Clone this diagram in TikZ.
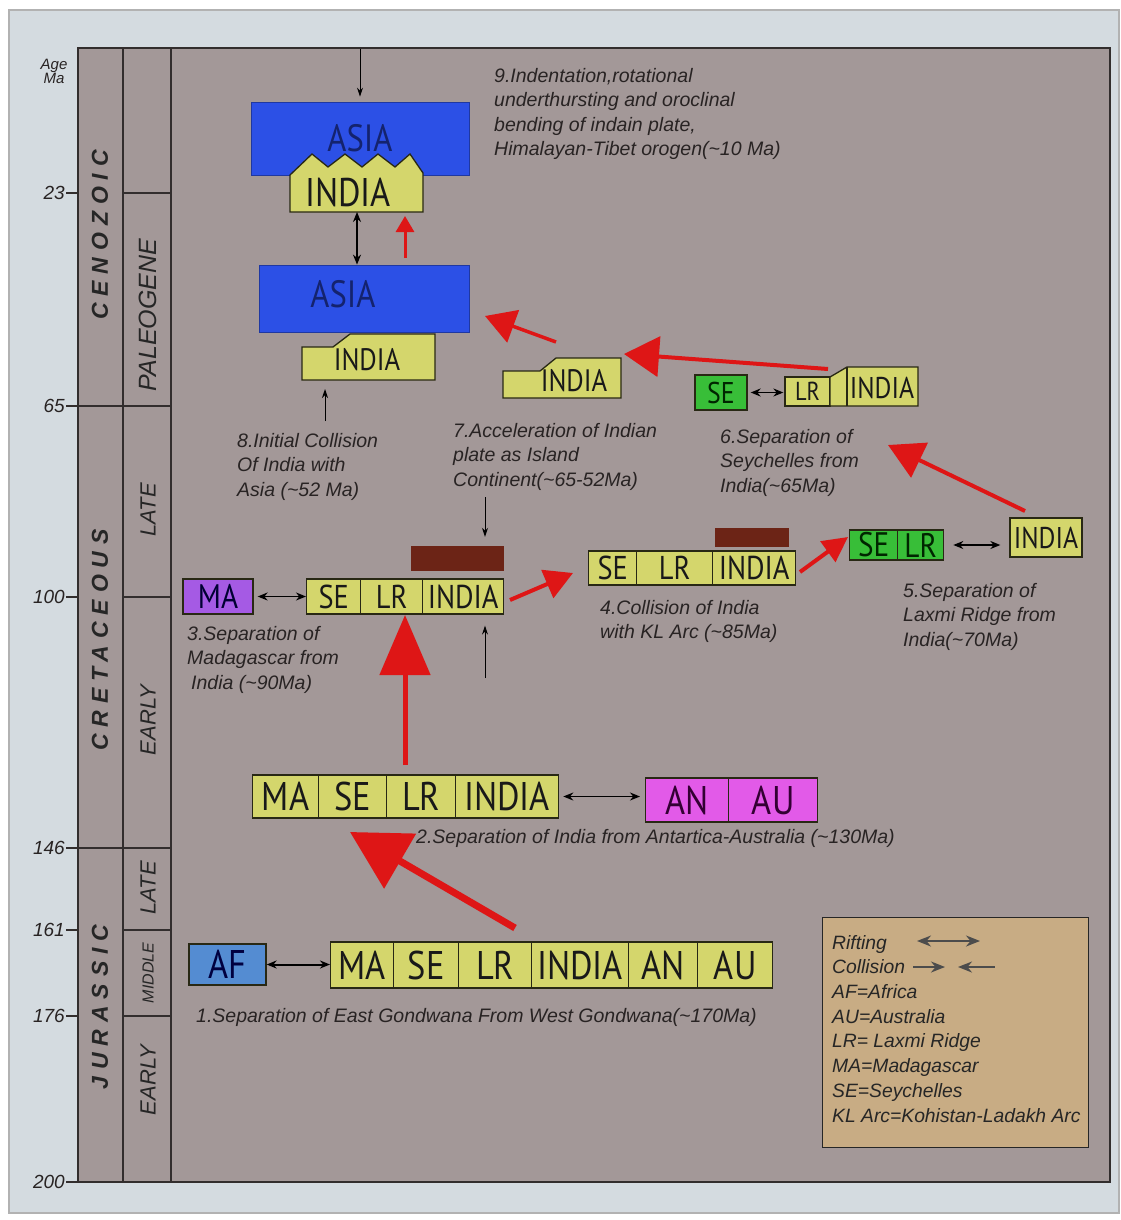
\documentclass[tikz,border=0pt]{standalone}
\usepackage{fontspec}
\setmainfont{Liberation Sans}
\newfontfamily\platefont[FakeStretch=0.86]{PT Sans}
\newfontfamily\erafont[LetterSpace=30]{Liberation Sans}
\usetikzlibrary{arrows.meta}
\definecolor{framebg}{RGB}{212,219,224}
\definecolor{panelbg}{RGB}{163,152,152}
\definecolor{gridline}{RGB}{50,45,45}
\definecolor{plateyel}{RGB}{212,214,108}
\definecolor{platedge}{RGB}{40,40,20}
\definecolor{afblue}{RGB}{84,140,210}
\definecolor{mapurple}{RGB}{165,90,228}
\definecolor{anmagenta}{RGB}{226,90,232}
\definecolor{segreen}{RGB}{56,190,56}
\definecolor{klbrown}{RGB}{108,36,22}
\definecolor{asiablue}{RGB}{44,80,230}
\definecolor{asiatext}{RGB}{20,35,110}
\definecolor{legendtan}{RGB}{200,172,132}
\definecolor{movered}{RGB}{222,22,22}
\definecolor{captext}{RGB}{40,35,35}
\newcommand\plsize[1]{\platefont\fontsize{#1}{#1}\selectfont}

\begin{document}
\begin{tikzpicture}[x=1pt,y=-1pt,>={Stealth[length=10pt,width=8pt]},
  plate/.style={draw=platedge,line width=1.3pt,fill=plateyel,inner sep=0pt,text=black!90},
  plateshape/.style={draw=platedge,line width=1.3pt,fill=plateyel},
  asiabox/.style={draw=asiablue!70!black,line width=0.8pt,fill=asiablue,inner sep=0pt,text=asiatext},
  klbar/.style={fill=klbrown,inner sep=0pt},
  stepnote/.style={anchor=north west,inner sep=0pt,align=left,text=captext,font=\fontsize{19.5}{24.5}\selectfont\itshape},
  agelab/.style={anchor=east,inner sep=1pt,text=captext,font=\fontsize{19}{19}\selectfont\itshape},
  eralab/.style={rotate=90,inner sep=0pt,text=black!85,font=\erafont\fontsize{23}{23}\selectfont\bfseries\itshape},
  epochlab/.style={rotate=90,inner sep=0pt,text=black!85,font=\fontsize{22}{22}\selectfont\itshape},
  rift/.style={<->,line width=1.4pt},
  push/.style={->,line width=1pt,>={Stealth[length=9pt,width=6pt]}},
  redmove/.style n args={3}{draw=movered,line width=#1,-{Triangle[length=#2,width=#3]}},
  legarrow/.style={draw=black!70,line width=2pt,>={Stealth[length=14pt,width=11pt]}}]
\useasboundingbox (0,0) rectangle (1121,1220);
\fill[white] (0,0) rectangle (1121,1220);
\filldraw[fill=framebg,draw=black!30,line width=1.5pt] (9,10) rectangle (1119,1213);
\filldraw[fill=panelbg,draw=gridline,line width=1.5pt] (78,48) rectangle (1110,1182);
\draw[gridline,line width=1.5pt] (123,48) -- (123,1182) (171,48) -- (171,1182);
\foreach \y in {193,597,930,1016} \draw[gridline,line width=1.5pt] (123,\y) -- (171,\y);
\foreach \y in {406,848} \draw[gridline,line width=1.5pt] (78,\y) -- (171,\y);
\foreach \y/\a in {193/23,406/65,597/100,848/146,930/161,1016/176,1182/200} {
  \draw[gridline,line width=1.5pt] (66,\y) -- (78,\y);
  \node[agelab] (age\a) at (66,\y) {\a};
}
\node[inner sep=0pt,align=center,text=captext,font=\fontsize{15}{14}\selectfont\itshape] (agehead) at (54,71) {Age\\Ma};
\node[eralab] (cenozoic) at (100,235) {CENOZOIC};
\node[eralab] (cretaceous) at (100,640) {CRETACEOUS};
\node[eralab] (jurassic) at (100,1007) {JURASSIC};
\node[epochlab,font=\fontsize{25}{25}\selectfont\itshape] (paleogene) at (148,315) {PALEOGENE};
\node[epochlab] (latecret) at (148,510) {LATE};
\node[epochlab] (earlycret) at (148,720) {EARLY};
\node[epochlab] (latejur) at (148,888) {LATE};
\node[epochlab,font=\fontsize{16}{16}\selectfont\itshape] (midjur) at (148,973) {MIDDLE};
\node[epochlab] (earlyjur) at (148,1080) {EARLY};

\node[asiabox,minimum width=218,minimum height=73,font=\plsize{38}] (asia9) at (360,138.5) {ASIA};
\filldraw[plateshape] (290,212) -- (290,175) -- (312,154) -- (328,167) -- (345,154) -- (362,167) -- (378,154) -- (395,167) -- (410,154) -- (423,173) -- (423,212) -- cycle;
\node[inner sep=0pt,text=black!90,font=\plsize{40}] (in9) at (348,192) {INDIA};
\coordinate (in9s) at (357,212);
\coordinate (top9) at (360,49);
\draw[push,shorten >=5pt] (top9) -- (asia9);
\node[stepnote] (cap9) at (494,68) {9.Indentation,rotational\\underthursting and oroclinal\\bending of indain plate,\\Himalayan-Tibet orogen(\textasciitilde10 Ma)};

\node[asiabox,minimum width=210,minimum height=67] (asia8) at (364,298.5) {};
\node[inner sep=0pt,text=asiatext,font=\plsize{38}] (asia8t) at (343,294) {ASIA};
\filldraw[plateshape] (302,380) -- (302,347) -- (333,347) -- (350,334) -- (435,334) -- (435,380) -- cycle;
\node[inner sep=0pt,text=black!90,font=\plsize{31}] (in8) at (367,360) {INDIA};
\coordinate (in8s) at (325,380);
\draw[rift] (in9s) -- (in9s |- asia8.north);
\coordinate (up8a) at (405,258);
\coordinate (up8b) at (405,216);
\draw[redmove={3pt}{16pt}{18pt}] (up8a) -- (up8b);
\coordinate (p8) at (325,421);
\draw[push,shorten >=9pt] (p8) -- (p8 |- in8s);
\node[stepnote] (cap8) at (237,433) {8.Initial Collision\\Of India with\\Asia (\textasciitilde52 Ma)};

\filldraw[plateshape] (503,398) -- (503,371) -- (540,371) -- (556,358) -- (621,358) -- (621,398) -- cycle;
\node[inner sep=0pt,text=black!90,font=\plsize{31}] (in7) at (574,381) {INDIA};
\node[stepnote] (cap7) at (453,423) {7.Acceleration of Indian\\plate as Island\\Continent(\textasciitilde65-52Ma)};

\node[plate,fill=segreen,minimum width=52,minimum height=35,font=\plsize{30},text=green!15!black] (se6) at (721,392.5) {SE};
\node[plate,minimum width=45,minimum height=29,font=\plsize{26}] (lr6) at (807.5,391.5) {LR};
\filldraw[plateshape] (830,406) -- (830,377) -- (847,367) -- (918,367) -- (918,406) -- cycle;
\draw[platedge,line width=1.3pt] (847,367) -- (847,406);
\node[inner sep=0pt,text=black!90,font=\plsize{30}] (in6) at (882,388) {INDIA};
\draw[rift,shorten <=3pt,shorten >=1pt] (se6.east) -- (se6.east -| lr6.west);
\node[stepnote] (cap6) at (720,429) {6.Separation of\\Seychelles from\\India(\textasciitilde65Ma)};

\foreach \n/\t/\a/\b in {se/SE/849/897,lr/LR/897/943}
  \node[plate,fill=segreen,text=green!15!black,minimum width=\b-\a,minimum height=30,anchor=west,font=\plsize{34}] (r5\n) at (\a,545) {\t};
\node[plate,minimum width=72,minimum height=39,font=\plsize{30}] (in5) at (1046,537.5) {INDIA};
\draw[rift,shorten <=9pt,shorten >=9pt] (r5lr.east) -- (r5lr.east -| in5.west);
\node[stepnote] (cap5) at (903,583) {5.Separation of\\Laxmi Ridge from\\India(\textasciitilde70Ma)};

\foreach \n/\t/\a/\b in {se/SE/588/636,lr/LR/636/712,in/INDIA/712/795}
  \node[plate,minimum width=\b-\a,minimum height=34,anchor=west,font=\plsize{33}] (r4\n) at (\a,568) {\t};
\node[klbar,minimum width=74,minimum height=19] (kl4) at (752,537.5) {};
\node[stepnote] (cap4) at (600,600) {4.Collision of India\\with KL Arc (\textasciitilde85Ma)};

\node[plate,fill=mapurple,minimum width=70,minimum height=35,font=\plsize{34},text=blue!20!black] (ma3) at (218,596.5) {MA};
\foreach \n/\t/\a/\b in {se/SE/306/360,lr/LR/360/422,in/INDIA/422/503}
  \node[plate,minimum width=\b-\a,minimum height=35,anchor=west,font=\plsize{33}] (r3\n) at (\a,596.5) {\t};
\node[klbar,minimum width=93,minimum height=25] (kl3) at (457.5,558.5) {};
\draw[rift,shorten <=4pt] (ma3.east) -- (ma3.east -| r3se.west);
\coordinate (p3a) at (485,497);
\coordinate (p3b) at (485,678);
\draw[push,shorten >=9pt] (p3a) -- (p3a |- kl3.north);
\draw[push,shorten >=11pt] (p3b) -- (p3b |- r3in.south);
\node[stepnote] (cap3) at (187,626) {3.Separation of\\Madagascar from\\\hspace*{4pt}India (\textasciitilde90Ma)};

\foreach \n/\t/\a/\b in {ma/MA/252/318,se/SE/318/386,lr/LR/386/455,in/INDIA/455/558}
  \node[plate,minimum width=\b-\a,minimum height=43,anchor=west,font=\plsize{40}] (r2\n) at (\a,796.5) {\t};
\foreach \n/\t/\a/\b in {an/AN/645/728,au/AU/728/817}
  \node[plate,fill=anmagenta,text=violet!40!black,minimum width=\b-\a,minimum height=44,anchor=west,font=\plsize{40}] (r2\n) at (\a,800) {\t};
\draw[rift,shorten <=4pt,shorten >=5pt] (r2in.east) -- (r2in.east -| r2an.west);
\node[stepnote] (cap2) at (416,829) {2.Separation of India from Antartica-Australia (\textasciitilde130Ma)};

\node[plate,fill=afblue,minimum width=77,minimum height=41,font=\plsize{40},text=blue!25!black] (af1) at (227.5,964.5) {AF};
\foreach \n/\t/\a/\b in {ma/MA/330/393,se/SE/393/458,lr/LR/458/531,in/INDIA/531/628,an/AN/628/697,au/AU/697/772}
  \node[plate,minimum width=\b-\a,minimum height=46,anchor=west,font=\plsize{40}] (r1\n) at (\a,965) {\t};
\draw[rift,line width=2pt] (af1.east) -- (af1.east -| r1ma.west);
\node[stepnote] (cap1) at (196,1008) {1.Separation of East Gondwana From West Gondwana(\textasciitilde170Ma)};

\coordinate (m1a) at (515,928);
\coordinate (m1b) at (350,832);
\draw[redmove={7pt}{58pt}{62pt}] (m1a) -- (m1b);
\coordinate (m2a) at (405,765);
\coordinate (m2b) at (405,615);
\draw[redmove={5pt}{60pt}{50pt}] (m2a) -- (m2b);
\coordinate (m3a) at (510,600);
\coordinate (m3b) at (573,573);
\draw[redmove={4pt}{28pt}{30pt}] (m3a) -- (m3b);
\coordinate (m4a) at (800,572);
\coordinate (m4b) at (848,537);
\draw[redmove={4pt}{25pt}{25pt}] (m4a) -- (m4b);
\coordinate (m5a) at (1025,511);
\coordinate (m5b) at (888,445);
\draw[redmove={4pt}{35pt}{38pt}] (m5a) -- (m5b);
\coordinate (m6a) at (828,369);
\coordinate (m6b) at (624,354);
\draw[redmove={4pt}{35pt}{40pt}] (m6a) -- (m6b);
\coordinate (m7a) at (556,342);
\coordinate (m7b) at (485,316);
\draw[redmove={3.5pt}{30pt}{34pt}] (m7a) -- (m7b);

\node[draw=black!85,fill=legendtan,line width=1.3pt,minimum width=266,minimum height=230,anchor=north west,inner sep=0pt] (legend) at (822,917) {};
\node[stepnote,text=black!85,font=\fontsize{19.3}{24.7}\selectfont\itshape] (legtext) at (832,935) {Rifting\\Collision\\AF=Africa\\AU=Australia\\LR= Laxmi Ridge\\MA=Madagascar\\SE=Seychelles\\KL Arc=Kohistan-Ladakh Arc};
\draw[legarrow,<->] (917,941) -- (980,941);
\draw[legarrow,->] (913,967) -- (945,967);
\draw[legarrow,<-] (958,967) -- (995,967);
\end{tikzpicture}
\end{document}
